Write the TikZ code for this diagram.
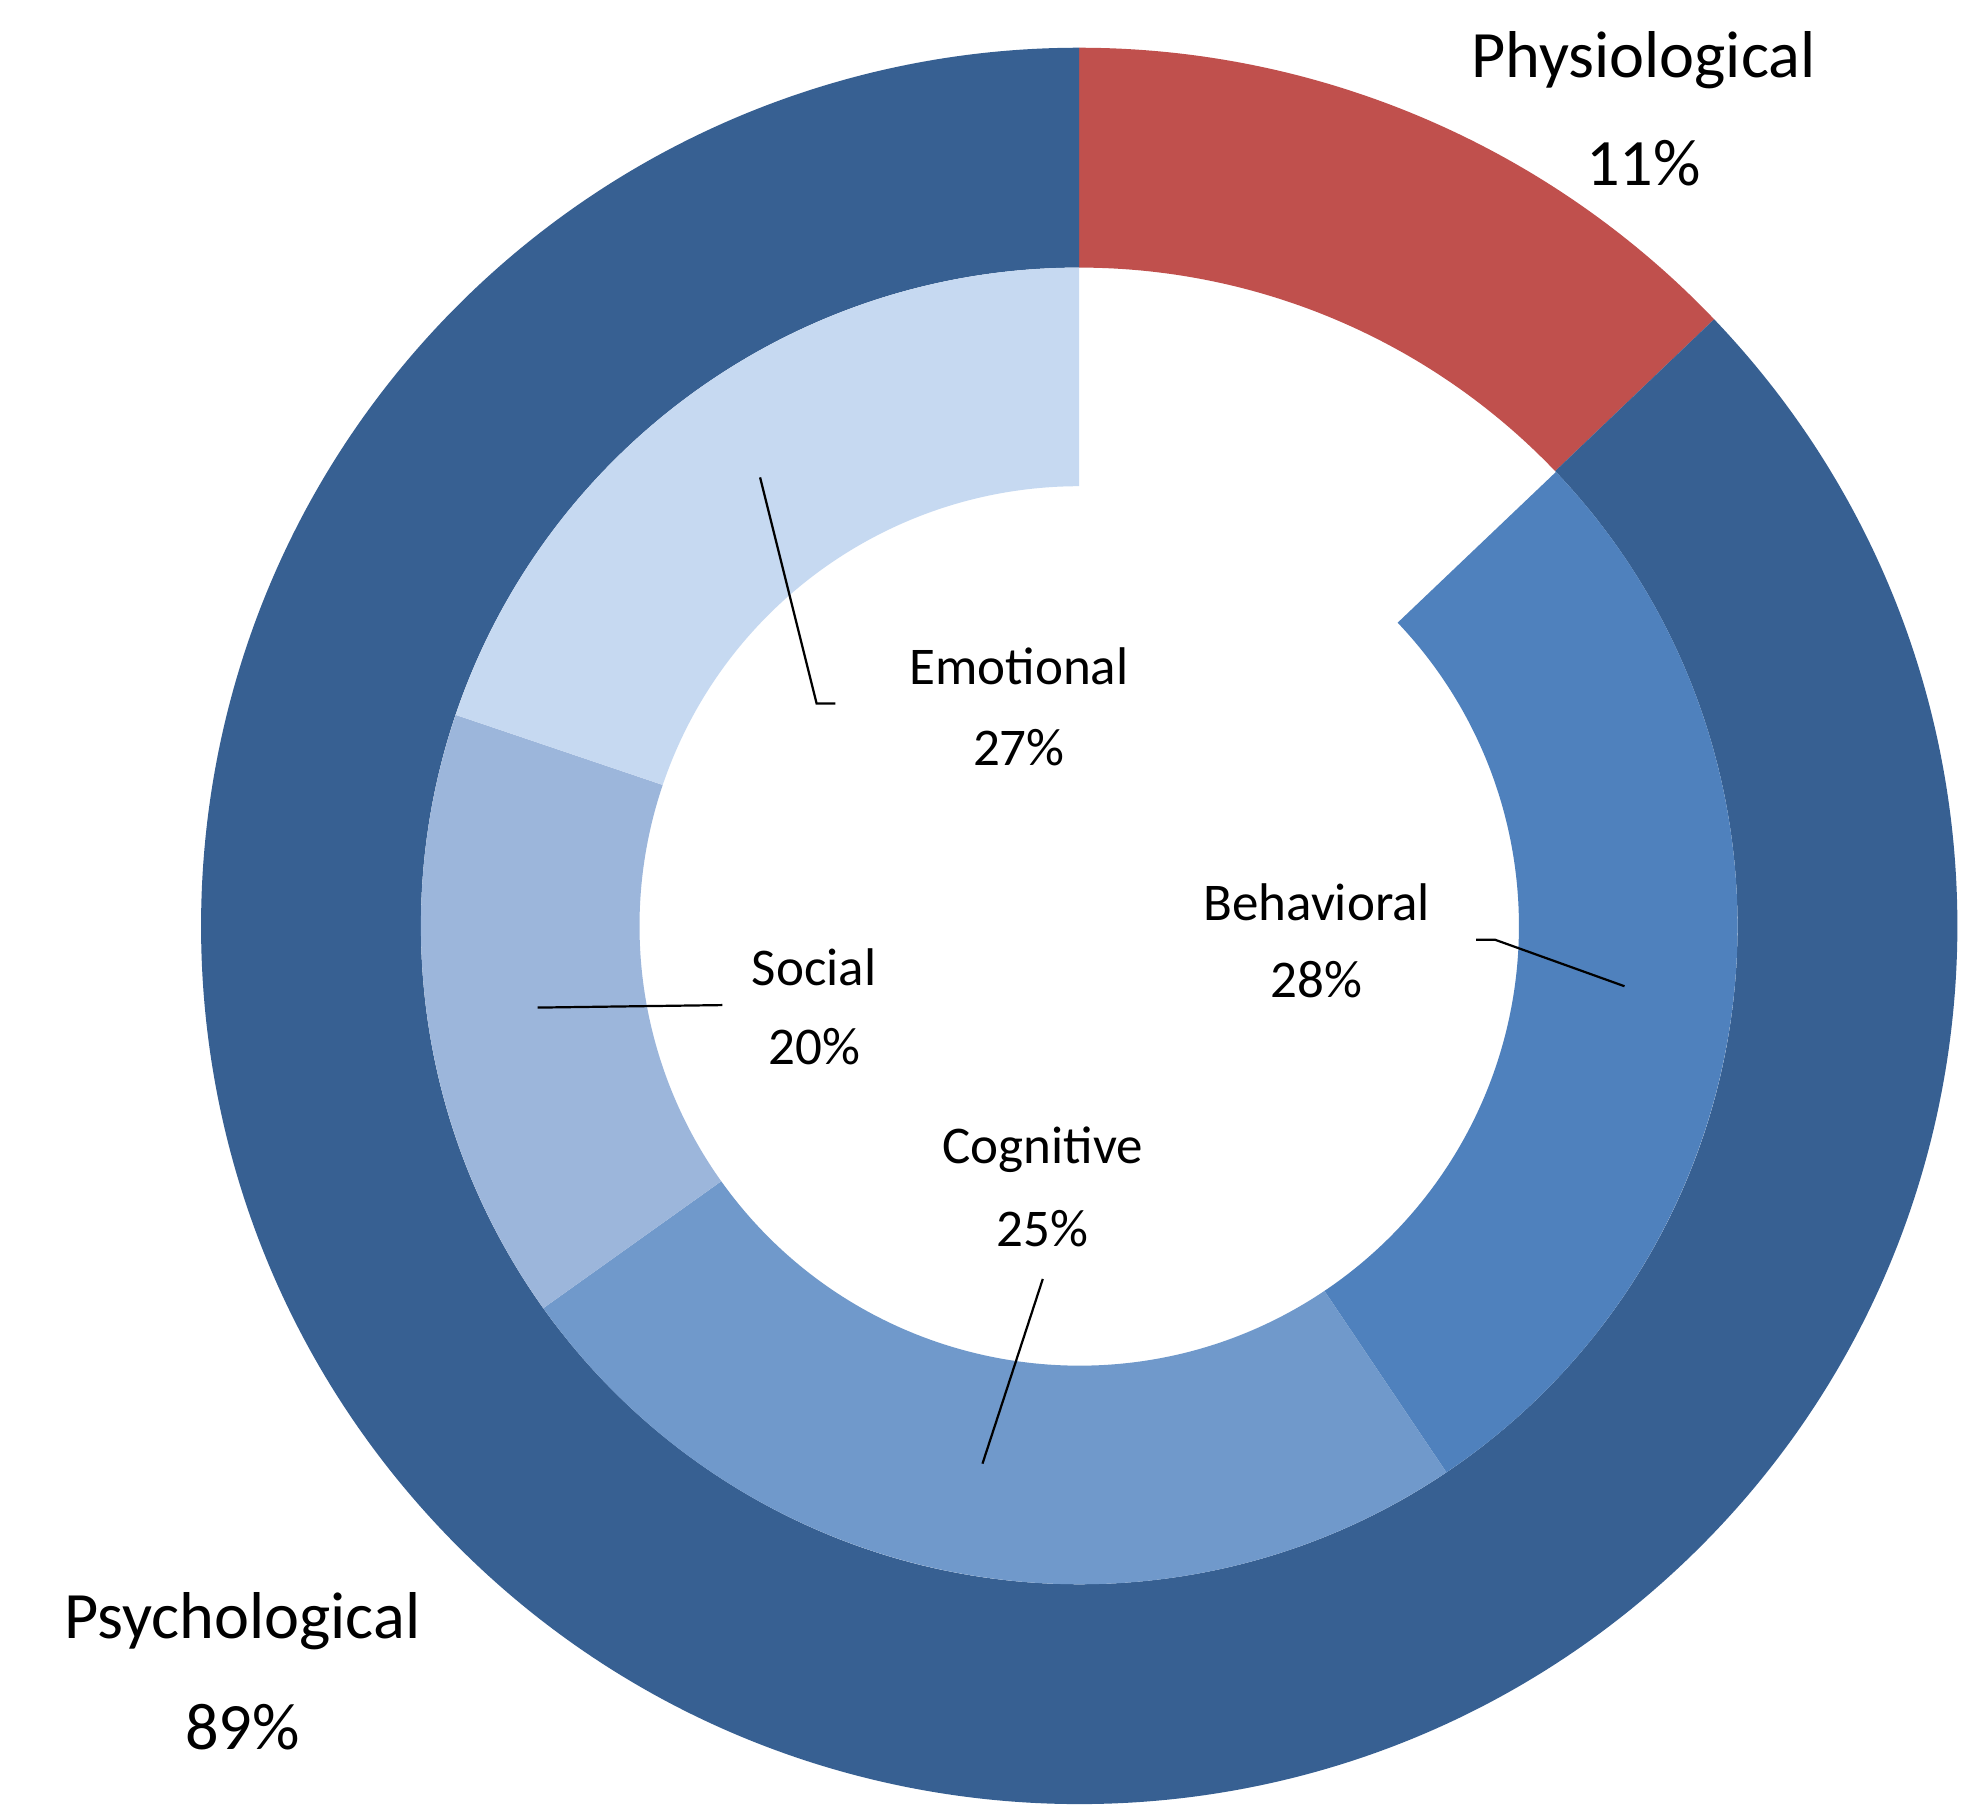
\documentclass[tikz,border=0pt]{standalone}
\usepackage{fontspec}
\setmainfont{Carlito}
\definecolor{dark}{HTML}{376092}
\definecolor{phys}{HTML}{C0504D}
\definecolor{behav}{HTML}{4F81BD}
\definecolor{cogn}{HTML}{7099CB}
\definecolor{soc}{HTML}{9CB6DB}
\definecolor{emo}{HTML}{C6D9F1}
\newcommand{\ringseg}[5]{\fill[#1,shift={(859,711)}] (#2:#4) arc[start angle=#2,end angle=#3,radius=#4] -- (#3:#5) arc[start angle=#3,end angle=#2,radius=#5] -- cycle;}
\begin{document}
\begin{tikzpicture}[x=0.01cm,y=0.01cm,
  big/.style={font=\fontsize{15}{17}\selectfont,align=center},
  small/.style={font=\fontsize{12}{14}\selectfont,align=center},
  lead/.style={black,line width=0.5pt}]
\useasboundingbox (0,0) rectangle (1568,1448);
\fill[white] (0,0) rectangle (1568,1448);
\ringseg{phys}{90}{43.7}{699}{524}
\ringseg{dark}{43.7}{-270}{699}{524}
\ringseg{behav}{43.6}{-56.1}{524}{350}
\ringseg{cogn}{-56.1}{-144.5}{524}{350}
\ringseg{soc}{215.5}{161.3}{524}{350}
\ringseg{emo}{161.3}{90}{524}{350}
\node[big] (phys) at (1308,1400) {Physiological};
\node[big] (physp) at (1308,1318) {11\%};
\node[big] (psy) at (193,158) {Psychological};
\node[big] (psyp) at (193,73) {89\%};
\node[small] (emo) at (811,918) {Emotional};
\node[small] (emop) at (811,853) {27\%};
\node[small] (beh) at (1048,730) {Behavioral};
\node[small] (behp) at (1048,668) {28\%};
\node[small] (soc) at (648,678) {Social};
\node[small] (socp) at (648,615) {20\%};
\node[small] (cog) at (830,533) {Cognitive};
\node[small] (cogp) at (830,470) {25\%};
\coordinate (e1) at (605,1068); \coordinate (e2) at (650,888); \coordinate (e3) at (665,888);
\coordinate (b1) at (1293,663); \coordinate (b2) at (1190,700); \coordinate (b3) at (1175,700);
\coordinate (s1) at (428,646); \coordinate (s2) at (575,648);
\coordinate (c1) at (782,283); \coordinate (c2) at (830,430);
\draw[lead] (e1) -- (e2) -- (e3);
\draw[lead] (b1) -- (b2) -- (b3);
\draw[lead] (s1) -- (s2);
\draw[lead] (c1) -- (c2);
\end{tikzpicture}
\end{document}
